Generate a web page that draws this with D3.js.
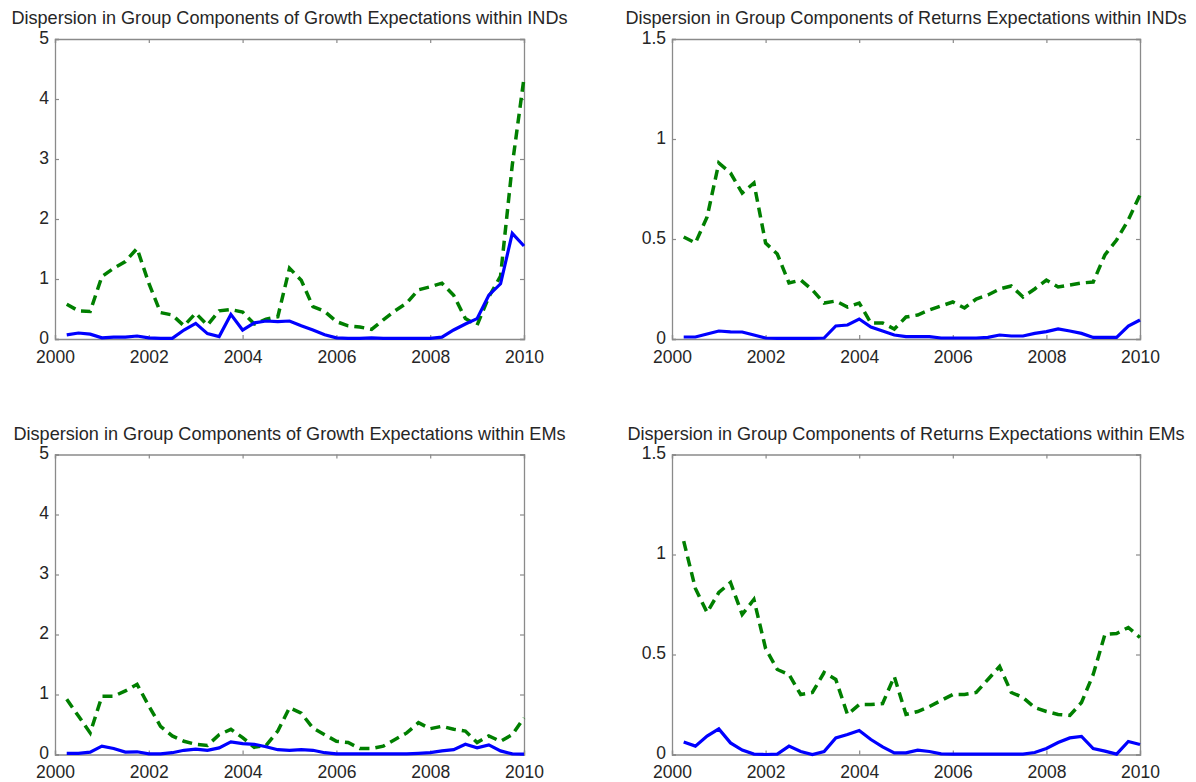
<!DOCTYPE html>
<html><head><meta charset="utf-8">
<script src="https://cdn.jsdelivr.net/npm/d3@7"></script>
<style>body{margin:0;background:#fff}svg{display:block}</style>
</head><body>
<script>
// quarterly dates 2000.25 .. 2010.00
const dates = d3.range(1, 41).map(k => 2000 + k / 4);
const xTicks = [2000, 2002, 2004, 2006, 2008, 2010];
const growthTicks = [0, 1, 2, 3, 4, 5];
const returnsTicks = [0, 0.5, 1, 1.5];

const indGrowthSolid = [0.07,0.1,0.08,0.02,0.03,0.03,0.05,0.02,0.01,0.01,0.15,0.26,0.09,0.04,0.41,0.15,0.27,0.3,0.29,0.3,
  0.22,0.15,0.07,0.02,0.01,0.01,0.02,0.01,0.01,0.01,0.01,0.01,0.03,0.15,0.25,0.34,0.73,0.92,1.76,1.55];
const indGrowthDashed = [0.58,0.47,0.46,1.04,1.18,1.29,1.51,0.93,0.44,0.4,0.22,0.43,0.23,0.47,0.49,0.45,0.25,0.33,0.37,1.18,
  0.98,0.54,0.46,0.29,0.22,0.2,0.16,0.32,0.47,0.6,0.82,0.87,0.93,0.73,0.34,0.23,0.7,1.05,2.9,4.35];

const indReturnsSolid = [0.01,0.01,0.025,0.04,0.036,0.035,0.02,0.005,0.003,0.003,0.003,0.003,0.005,0.065,0.07,0.1,0.06,0.04,0.02,0.012,
  0.012,0.012,0.005,0.005,0.005,0.005,0.008,0.02,0.015,0.015,0.028,0.037,0.05,0.04,0.028,0.008,0.008,0.008,0.065,0.095];
const indReturnsDashed = [0.51,0.48,0.61,0.88,0.83,0.73,0.78,0.48,0.425,0.28,0.295,0.245,0.18,0.19,0.16,0.18,0.08,0.08,0.05,0.11,
  0.12,0.145,0.165,0.185,0.155,0.2,0.22,0.25,0.265,0.21,0.25,0.295,0.26,0.27,0.28,0.285,0.42,0.495,0.595,0.72];

const emGrowthSolid = [0.02,0.02,0.04,0.14,0.1,0.04,0.045,0.01,0.01,0.03,0.07,0.09,0.07,0.11,0.21,0.18,0.17,0.13,0.08,0.07,
  0.08,0.07,0.03,0.01,0.01,0.01,0.01,0.01,0.01,0.01,0.02,0.03,0.06,0.08,0.17,0.11,0.16,0.06,0.01,0.005];
const emGrowthDashed = [0.92,0.64,0.36,0.97,0.97,1.06,1.17,0.81,0.47,0.31,0.22,0.17,0.15,0.33,0.42,0.28,0.12,0.15,0.39,0.78,
  0.69,0.44,0.33,0.22,0.2,0.1,0.1,0.14,0.25,0.36,0.53,0.43,0.47,0.42,0.39,0.2,0.31,0.22,0.33,0.61];

const emReturnsSolid = [0.063,0.042,0.092,0.128,0.058,0.022,0.002,0,0.002,0.042,0.015,0,0.015,0.083,0.1,0.12,0.075,0.038,0.008,0.008,
  0.022,0.015,0.003,0.002,0.002,0.002,0.002,0.002,0.002,0.002,0.01,0.03,0.06,0.083,0.09,0.03,0.017,0.002,0.065,0.05];
const emReturnsDashed = [1.067,0.83,0.71,0.81,0.86,0.7,0.775,0.53,0.425,0.4,0.3,0.31,0.41,0.375,0.2,0.25,0.25,0.255,0.39,0.2,
  0.215,0.24,0.27,0.3,0.3,0.31,0.375,0.44,0.31,0.285,0.235,0.215,0.2,0.195,0.26,0.4,0.6,0.605,0.635,0.585];

const titles = [
  "Dispersion in Group Components of Growth Expectations within INDs",
  "Dispersion in Group Components of Returns Expectations within INDs",
  "Dispersion in Group Components of Growth Expectations within EMs",
  "Dispersion in Group Components of Returns Expectations within EMs"
];

const panels = [
  {title: titles[0], solid: indGrowthSolid, dashed: indGrowthDashed, yMax: 5, ticks: growthTicks, x0: 55, x1: 524, y0: 39, y1: 339},
  {title: titles[1], solid: indReturnsSolid, dashed: indReturnsDashed, yMax: 1.5, ticks: returnsTicks, x0: 672, x1: 1140, y0: 39, y1: 339},
  {title: titles[2], solid: emGrowthSolid, dashed: emGrowthDashed, yMax: 5, ticks: growthTicks, x0: 55, x1: 524, y0: 454.5, y1: 754.5},
  {title: titles[3], solid: emReturnsSolid, dashed: emReturnsDashed, yMax: 1.5, ticks: returnsTicks, x0: 672, x1: 1140, y0: 454.5, y1: 754.5}
];

const svg = d3.select("body").append("svg").attr("width", 1196).attr("height", 782);
const axisColor = "#8a8a8a", textColor = "#262626", font = "'Liberation Sans', Arial, Helvetica, sans-serif";

panels.forEach(p => {
  const x = d3.scaleLinear().domain([2000, 2010]).range([p.x0, p.x1]);
  const y = d3.scaleLinear().domain([0, p.yMax]).range([p.y1, p.y0]);
  const g = svg.append("g");
  const fmt = d => String(d);

  // axes: inward ticks on all four sides
  const axes = [
    {a: d3.axisBottom(x).tickValues(xTicks).tickSize(-4).tickFormat(fmt), t: `translate(0,${p.y1})`, kind: "x"},
    {a: d3.axisTop(x).tickValues(xTicks).tickSize(-4).tickFormat(""), t: `translate(0,${p.y0})`},
    {a: d3.axisLeft(y).tickValues(p.ticks).tickSize(-4).tickFormat(fmt), t: `translate(${p.x0},0)`, kind: "y"},
    {a: d3.axisRight(y).tickValues(p.ticks).tickSize(-4).tickFormat(""), t: `translate(${p.x1},0)`}
  ];
  axes.forEach(ax => {
    const ag = g.append("g").attr("transform", ax.t).call(ax.a);
    ag.select(".domain").attr("stroke", axisColor).attr("stroke-width", 1.3);
    ag.selectAll(".tick line").attr("stroke", axisColor).attr("stroke-width", 1.2);
    const tt = ag.selectAll(".tick text").attr("fill", textColor).attr("font-family", font).attr("font-size", 17.5);
    if (ax.kind === "x") tt.attr("y", 23.5).attr("dy", "0");
    if (ax.kind === "y") tt.attr("x", -6).attr("dy", "0.25em");
  });

  const line = d3.line().x((d, i) => x(dates[i])).y(d => y(d));
  g.append("path").datum(p.dashed).attr("d", line).attr("fill", "none")
    .attr("stroke", "#007f00").attr("stroke-width", 3.5).attr("stroke-dasharray", "10,6");
  g.append("path").datum(p.solid).attr("d", line).attr("fill", "none")
    .attr("stroke", "#0000ff").attr("stroke-width", 3.2);

  g.append("text").attr("x", (p.x0 + p.x1) / 2).attr("y", p.y0 - 15)
    .attr("text-anchor", "middle").attr("fill", textColor).attr("font-family", font).attr("font-size", 18.1)
    .text(p.title);
});
</script>
</body></html>
